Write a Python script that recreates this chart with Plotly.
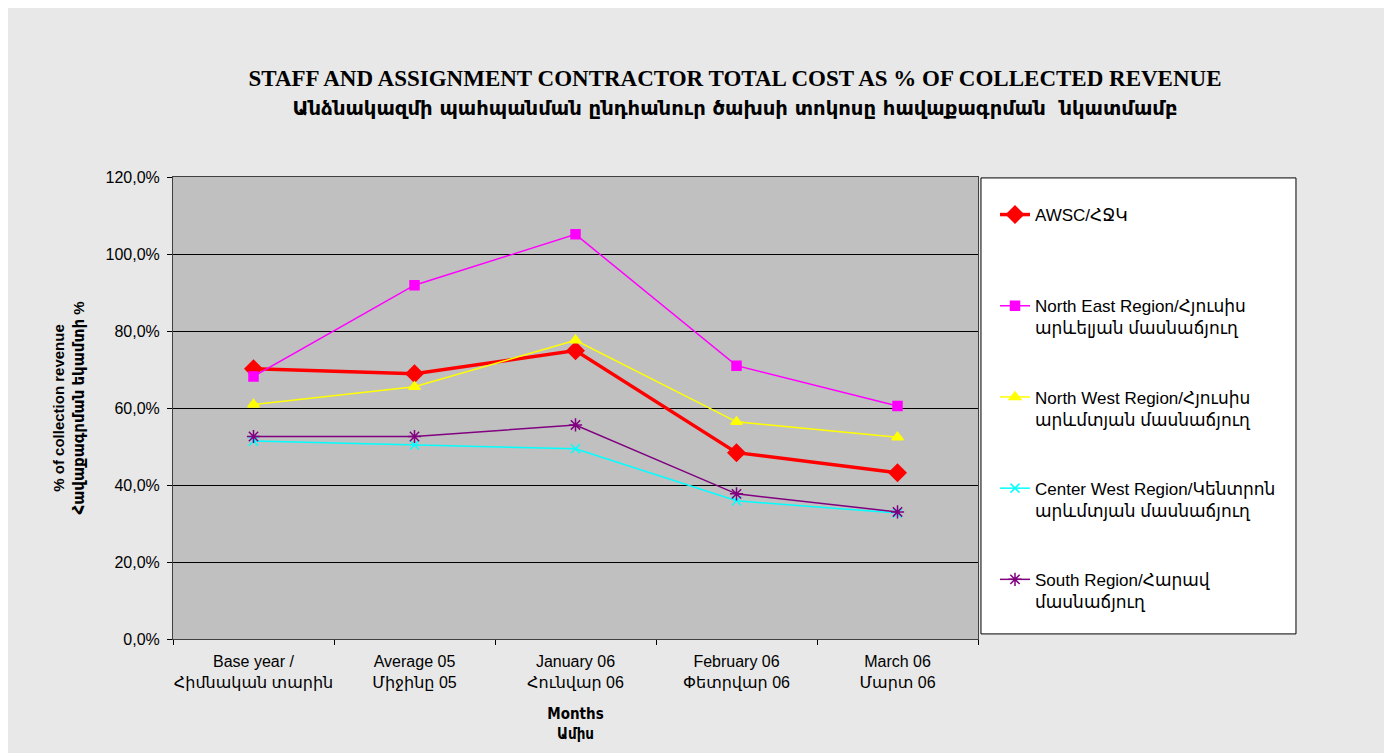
"""Staff and assignment contractor total cost as % of collected revenue, by region"""

import plotly.graph_objects as go

months = [
    "Base year /<br>Հիմնական տարին",
    "Average 05<br>Միջինը 05",
    "January 06<br>Հունվար 06",
    "February 06<br>Փետրվար 06",
    "March 06<br>Մարտ 06",
]

awsc = [0.702, 0.689, 0.749, 0.484, 0.432]
north_east = [0.682, 0.919, 1.051, 0.710, 0.605]
north_west = [0.609, 0.655, 0.776, 0.564, 0.524]
center_west = [0.514, 0.504, 0.494, 0.359, 0.327]
south = [0.526, 0.526, 0.556, 0.377, 0.330]

y_ticks = [0, 0.2, 0.4, 0.6, 0.8, 1.0, 1.2]

series = [
    ("AWSC/ՀՋԿ<br> ", awsc, "#FF0000", "diamond", 13, 3.5),
    ("North East Region/Հյուսիս<br>արևելյան մասնաճյուղ", north_east, "#FF00FF", "square", 9, 1.5),
    ("North West Region/Հյուսիս<br>արևմտյան մասնաճյուղ", north_west, "#FFFF00", "triangle-up", 10, 1.5),
    ("Center West Region/Կենտրոն<br>արևմտյան մասնաճյուղ", center_west, "#00FFFF", "x-thin-open", 9, 1.5),
    ("South Region/Հարավ<br>մասնաճյուղ", south, "#800080", "asterisk-open", 11, 1.5),
]

SANS = "Liberation Sans, Arial, DejaVu Sans"

fig = go.Figure()
for i, (name, vals, col, sym, size, lw) in enumerate(series):
    fig.add_trace(
        go.Scatter(
            x=months,
            y=vals,
            name=name,
            legendgroup=str(i),
            mode="lines+markers",
            line=dict(color=col, width=lw),
            marker=dict(symbol=sym, size=size, color=col, line=dict(color=col, width=1.5)),
        )
    )

title_text = (
    "<b><span style='font-family:Liberation Serif, Times New Roman, serif;font-size:23px'>"
    "STAFF AND ASSIGNMENT CONTRACTOR TOTAL COST AS % OF COLLECTED REVENUE</span><br>"
    "<span style='font-family:DejaVu Sans;font-size:19.6px'>"
    "Անձնակազմի պահպանման ընդհանուր ծախսի տոկոսը հավաքագրման  նկատմամբ</span></b>"
)

# the page body adds 8px of white round the figure, so margins are 8px less
fig.update_layout(
    width=1392,
    height=753,
    autosize=False,
    margin=dict(l=165, r=422, t=169, b=122),
    paper_bgcolor="#E8E8E8",
    plot_bgcolor="#C0C0C0",
    separators=", ",
    font=dict(family=SANS, size=16, color="#000000"),
    title=dict(
        text=title_text,
        x=727 / 1392,
        xanchor="center",
        xref="container",
        y=1 - 78 / 753,
        yanchor="top",
        yref="container",
    ),
    legend=dict(
        xref="container",
        yref="container",
        x=987 / 1392,
        y=1 - 189 / 753,
        xanchor="left",
        yanchor="top",
        bgcolor="rgba(0,0,0,0)",
        traceorder="grouped",
        tracegroupgap=44,
        valign="top",
        maxheight=700,
        font=dict(family=SANS, size=17),
    ),
    shapes=[
        # legend box
        dict(type="rect", xref="paper", yref="paper", x0=1.0037, x1=1.395, y0=0.011, y1=0.998,
             fillcolor="#FFFFFF", line=dict(color="#000000", width=1), layer="below"),
    ],
)

fig.update_xaxes(
    title=dict(text="<b>Months<br>Ամիս</b>", font=dict(family="DejaVu Sans Condensed, DejaVu Sans", size=15), standoff=18),
    automargin=False,
    range=[-0.5, 4.5],
    tickangle=0,
    tickson="boundaries",
    ticks="outside",
    ticklen=5,
    tickcolor="#000000",
    ticklabelstandoff=8,
    showline=True,
    linecolor="#404040",
    linewidth=1,
    mirror=True,
    showgrid=False,
    tickfont=dict(size=16),
)
fig.update_yaxes(
    title=dict(text="<b>% of collection revenue<br>Հավաքագրման եկամտի %</b>", font=dict(size=15), standoff=17),
    automargin=False,
    range=[0, 1.2],
    tickvals=y_ticks,
    tickformat=".1%",
    ticks="outside",
    ticklen=5,
    tickcolor="#000000",
    ticklabelstandoff=4,
    showline=True,
    linecolor="#404040",
    linewidth=1,
    mirror=True,
    showgrid=True,
    gridcolor="#000000",
    gridwidth=1,
    zeroline=False,
    tickfont=dict(size=16),
)

fig.write_html("out.html")
